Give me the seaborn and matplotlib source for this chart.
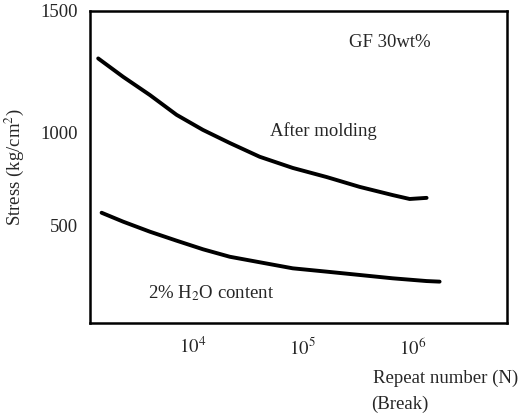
import numpy as np
import pandas as pd
import seaborn as sns
from matplotlib import pyplot as plt

# values
cycles_molded = [1377, 2323, 4064, 7120, 12330, 21700, 40600, 81100, 165000, 330000, 658000, 940000, 1340000]
stress_molded = [1304, 1228, 1153, 1071, 1009, 941, 867, 807, 758, 705, 661, 640, 646]
cycles_wet = [1479, 2323, 4064, 7120, 12400, 21700, 37900, 81100, 165000, 330000, 658000, 1340000, 1760000]
stress_wet = [566, 518, 466, 420, 376, 338, 313, 279, 262, 245, 228, 214, 211]
y_ticks = [500, 1000, 1500]
x_ticks = [1e4, 1e5, 1e6]
x_tick_labels = ['$10^4$', '$10^5$', '$10^6$']

df = pd.concat([
    pd.DataFrame({'N': cycles_molded, 'stress': stress_molded, 'cond': 'After molding'}),
    pd.DataFrame({'N': cycles_wet, 'stress': stress_wet, 'cond': '2% H2O content'}),
])

sns.set_style('white')
plt.rcParams['font.family'] = ['Liberation Serif', 'DejaVu Serif']
plt.rcParams['mathtext.fontset'] = 'stix'

fig = plt.figure(figsize=(5.31, 4.16), dpi=100)
ax = fig.add_axes([0.1695, 0.2236, 0.785, 0.75])

sns.lineplot(data=df, x='N', y='stress', units='cond', estimator=None,
             color='black', linewidth=2.8, ax=ax, legend=False, sort=False)
for ln in ax.get_lines():
    ln.set_solid_capstyle('round')
    ln.set_solid_joinstyle('round')

# the hand-drawn stress axis is not evenly spaced
yd = [-15000, 0, 500, 1000, 1500, 16500]
yp = [-9.42, 0, 0.314, 0.612, 1.0, 12.64]
ax.set_yscale('function', functions=(lambda v: np.interp(v, yd, yp),
                                     lambda v: np.interp(v, yp, yd)))
ax.set_xscale('log')
ax.set_xlim(1160, 7.2e6)
ax.set_ylim(0, 1500)

fs = 13.5
ax.set_yticks(y_ticks)
ax.set_yticklabels([str(t) for t in y_ticks], fontsize=fs)
ax.set_xticks(x_ticks)
ax.set_xticklabels(x_tick_labels, fontsize=fs)
ax.minorticks_off()
ax.tick_params(axis='y', direction='out', length=3, width=1.5, pad=6)
ax.tick_params(axis='x', direction='in', length=2, width=1.5, pad=10)
for s in ax.spines.values():
    s.set_linewidth(1.8)
    s.set_color('black')
ax.set_xlabel('')
ax.set_ylabel('Stress (kg/cm$^2$)', fontsize=fs, labelpad=10)

ax.text(0.72, 0.9, 'GF 30wt%', transform=ax.transAxes, fontsize=fs, ha='center', va='center')
ax.text(0.56, 0.615, 'After molding', transform=ax.transAxes, fontsize=fs, ha='center', va='center')
ax.text(0.29, 0.095, '2% H$_2$O content', transform=ax.transAxes, fontsize=fs, ha='center', va='center')

fig.text(0.702, 0.09, 'Repeat number (N)', fontsize=fs, ha='left', va='center')
fig.text(0.698, 0.028, '(Break)', fontsize=fs, ha='left', va='center')

fig.savefig('out.png', dpi=100)
